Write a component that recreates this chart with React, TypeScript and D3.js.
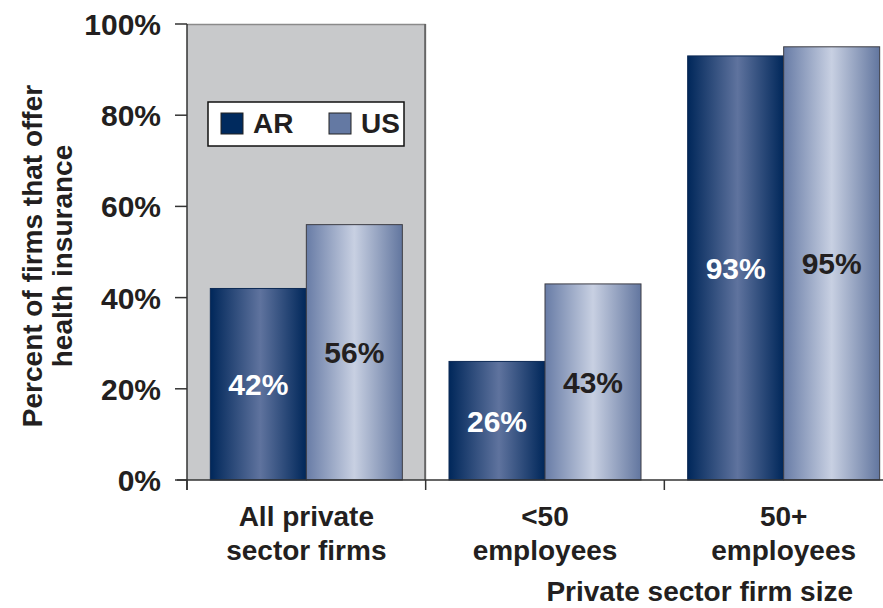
import React, { useEffect, useRef } from 'react';
import * as d3 from 'd3';

const categories = [['All private', 'sector firms'], ['<50', 'employees'], ['50+', 'employees']];
const series = ['AR', 'US'];
const arValues = [0.42, 0.26, 0.93];
const usValues = [0.56, 0.43, 0.95];
const yTicks = [0, 0.2, 0.4, 0.6, 0.8, 1.0];

const FONT = '"Liberation Sans", Arial, sans-serif';
const INK = '#231f20';

export default function App() {
  const svgRef = useRef<SVGSVGElement>(null);
  const W = 883, H = 608;

  useEffect(() => {
    const svg = d3.select(svgRef.current);
    svg.selectAll('*').remove();

    const left = 187, top = 24, bottom = 480, right = 903;

    const x = d3.scaleBand<number>().domain(d3.range(categories.length)).range([left, right]);
    const xs = d3.scaleBand<string>().domain(series).range([0, x.bandwidth()]).paddingOuter(0.243);
    const y = d3.scaleLinear().domain([0, 1]).range([bottom, top]);

    // Gradients
    const defs = svg.append('defs');
    const grad = (id: string, stops: [number, string][]) => {
      const lg = defs.append('linearGradient').attr('id', id).attr('x1', '0').attr('x2', '1').attr('y1', '0').attr('y2', '0');
      stops.forEach(([o, c]) => lg.append('stop').attr('offset', o).attr('stop-color', c));
    };
    grad('gAR', [[0, '#00275a'], [0.52, '#5f739e'], [1, '#00275a']]);
    grad('gUS', [[0, '#687ca6'], [0.5, '#c8d0e2'], [1, '#62769f']]);

    // Gray panel behind first category
    svg.append('rect').attr('x', x(0)!).attr('y', y(1)).attr('width', x.bandwidth()).attr('height', y(0) - y(1))
      .attr('fill', '#c8c9cb');
    svg.append('line').attr('x1', x(0)!).attr('x2', x(0)! + x.bandwidth()).attr('y1', y(1) + 0.5).attr('y2', y(1) + 0.5)
      .attr('stroke', '#8a8a8a').attr('stroke-width', 1.5);
    svg.append('line').attr('x1', x(1)! - 0.5).attr('x2', x(1)! - 0.5).attr('y1', y(1)).attr('y2', y(0))
      .attr('stroke', '#666').attr('stroke-width', 2);

    // Bars
    const data = [arValues, usValues];
    data.forEach((vals, si) => {
      const s = series[si];
      vals.forEach((v, ci) => {
        const bx = x(ci)! + xs(s)!;
        svg.append('rect').attr('x', bx).attr('y', y(v)).attr('width', xs.bandwidth()).attr('height', y(0) - y(v))
          .attr('fill', `url(#g${s})`).attr('stroke', si === 0 ? '#0d2a55' : '#3d3d45').attr('stroke-width', 1);
        svg.append('text').attr('x', bx + xs.bandwidth() / 2).attr('y', (y(v) + y(0)) / 2 + 11)
          .attr('text-anchor', 'middle').attr('font-family', FONT).attr('font-weight', 'bold').attr('font-size', 30)
          .attr('fill', si === 0 ? '#ffffff' : INK)
          .text(d3.format('.0%')(v));
      });
    });

    // Y axis
    svg.append('line').attr('x1', left).attr('x2', left).attr('y1', y(1)).attr('y2', bottom + 10)
      .attr('stroke', '#333').attr('stroke-width', 1.5);
    yTicks.forEach(t => {
      svg.append('line').attr('x1', left - 12).attr('x2', left).attr('y1', y(t)).attr('y2', y(t))
        .attr('stroke', '#333').attr('stroke-width', 1.5);
      svg.append('text').attr('x', 161).attr('y', y(t) + 11).attr('text-anchor', 'end')
        .attr('font-family', FONT).attr('font-weight', 'bold').attr('font-size', 30).attr('fill', INK)
        .text(d3.format('.0%')(t));
    });

    // X axis
    svg.append('line').attr('x1', 177).attr('x2', W).attr('y1', bottom).attr('y2', bottom)
      .attr('stroke', '#333').attr('stroke-width', 1.5);
    d3.range(categories.length + 1).forEach(i => {
      const tx = i < categories.length ? x(i)! : right;
      svg.append('line').attr('x1', tx).attr('x2', tx).attr('y1', bottom).attr('y2', bottom + 10)
        .attr('stroke', '#333').attr('stroke-width', 1.5);
    });
    categories.forEach((lines, i) => {
      const t = svg.append('text').attr('text-anchor', 'middle').attr('font-family', FONT).attr('font-weight', 'bold')
        .attr('font-size', 28).attr('fill', INK);
      lines.forEach((ln, j) => {
        t.append('tspan').attr('x', x(i)! + x.bandwidth() / 2).attr('y', 526 + j * 34).text(ln);
      });
    });

    // Axis titles
    svg.append('text').attr('x', 853).attr('y', 601).attr('text-anchor', 'end')
      .attr('font-family', FONT).attr('font-weight', 'bold').attr('font-size', 28).attr('fill', INK)
      .text('Private sector firm size');
    const yt = svg.append('text').attr('transform', 'translate(0,256) rotate(-90)').attr('text-anchor', 'middle')
      .attr('font-family', FONT).attr('font-weight', 'bold').attr('font-size', 28).attr('fill', INK);
    yt.append('tspan').attr('x', 0).attr('y', 42).text('Percent of firms that offer');
    yt.append('tspan').attr('x', 0).attr('y', 72).text('health insurance');

    // Legend
    svg.append('rect').attr('x', 208).attr('y', 102).attr('width', 196).attr('height', 44)
      .attr('fill', '#fff').attr('stroke', '#111').attr('stroke-width', 1.5);
    const legColors = ['#002a5e', '#6479a3'];
    series.forEach((s, i) => {
      const lx = 221 + i * 108;
      svg.append('rect').attr('x', lx).attr('y', 113).attr('width', 22).attr('height', 21)
        .attr('fill', legColors[i]).attr('stroke', '#222').attr('stroke-width', 1);
      svg.append('text').attr('x', lx + 32).attr('y', 133)
        .attr('font-family', FONT).attr('font-weight', 'bold').attr('font-size', 28).attr('fill', INK)
        .text(s);
    });
  }, []);

  return (
    <div style={{ position: 'absolute', left: 0, top: 0 }}>
      <svg ref={svgRef} width={W} height={H} style={{ display: 'block' }} />
    </div>
  );
}
